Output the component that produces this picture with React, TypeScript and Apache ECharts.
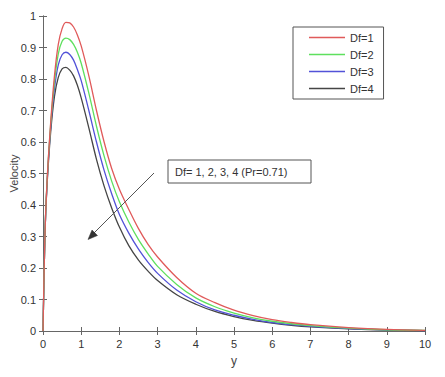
import React, { useEffect, useRef } from "react";
import * as echarts from "echarts";

const yPos = [0, 0.05, 0.1, 0.2, 0.3, 0.4, 0.5, 0.6, 0.7, 0.8, 0.9, 1.0, 1.2, 1.4, 1.6, 1.8, 2.0, 2.25, 2.5, 2.75, 3.0, 3.5, 4.0, 4.5, 5.0, 5.5, 6.0, 6.5, 7, 8, 9, 10];
const df1 = [0, 0.3, 0.46, 0.66, 0.81, 0.91, 0.96, 0.98, 0.978, 0.965, 0.94, 0.905, 0.81, 0.7, 0.6, 0.515, 0.45, 0.385, 0.325, 0.275, 0.235, 0.17, 0.12, 0.09, 0.066, 0.049, 0.036, 0.027, 0.02, 0.011, 0.005, 0.002];
const df2 = [0, 0.3, 0.46, 0.655, 0.79, 0.88, 0.92, 0.93, 0.925, 0.91, 0.885, 0.85, 0.755, 0.65, 0.555, 0.475, 0.41, 0.345, 0.29, 0.245, 0.205, 0.148, 0.105, 0.077, 0.057, 0.042, 0.031, 0.023, 0.017, 0.009, 0.004, 0.002];
const df3 = [0, 0.3, 0.455, 0.645, 0.77, 0.845, 0.877, 0.885, 0.878, 0.86, 0.83, 0.795, 0.7, 0.6, 0.51, 0.435, 0.37, 0.31, 0.26, 0.218, 0.183, 0.13, 0.093, 0.067, 0.05, 0.037, 0.027, 0.02, 0.015, 0.008, 0.004, 0.001];
const df4 = [0, 0.3, 0.45, 0.63, 0.745, 0.805, 0.832, 0.837, 0.828, 0.81, 0.78, 0.74, 0.645, 0.545, 0.46, 0.39, 0.33, 0.27, 0.225, 0.19, 0.16, 0.115, 0.085, 0.062, 0.046, 0.034, 0.025, 0.018, 0.013, 0.007, 0.003, 0.001];

const seriesNames = ["Df=1", "Df=2", "Df=3", "Df=4"];
const seriesColors = ["#e05a5a", "#5ee05e", "#5252d8", "#454545"];
const seriesValues = [df1, df2, df3, df4];
const annotation = "Df= 1, 2, 3, 4 (Pr=0.71)";

const FONT = "Liberation Sans, Arial, sans-serif";
const FRAME = "#666";

export default function App() {
  const ref = useRef<HTMLDivElement>(null);
  useEffect(() => {
    if (!ref.current) return;
    const chart = echarts.init(ref.current, null, { renderer: "svg" });
    const axisCommon = {
      axisLine: { show: true, lineStyle: { color: FRAME, width: 1 } },
      axisTick: { show: true, inside: true, length: 4, lineStyle: { color: FRAME } },
      splitLine: { show: false },
    };
    chart.setOption({
      animation: false,
      backgroundColor: "#fff",
      textStyle: { fontFamily: FONT },
      grid: { left: 43, top: 16, width: 382, height: 315, containLabel: false, outerBoundsMode: "none" },
      legend: {
        data: seriesNames.map((n) => ({ name: n, icon: "rect" })),
        orient: "vertical",
        left: 293,
        top: 27,
        padding: [4, 10, 4, 16],
        itemGap: 4,
        itemWidth: 36,
        itemHeight: 1.5,
        borderColor: "#555",
        borderWidth: 1,
        textStyle: { fontSize: 11, color: "#333", fontFamily: FONT, lineHeight: 13 },
      },
      xAxis: [
        {
          type: "value",
          min: 0,
          max: 10,
          interval: 1,
          position: "bottom",
          name: "y",
          nameLocation: "middle",
          nameGap: 24,
          nameMoveOverlap: false,
          nameTextStyle: { fontSize: 12, color: "#444", fontFamily: FONT },
          axisLabel: { fontSize: 11, color: "#333", margin: 7, fontFamily: FONT },
          ...axisCommon,
        },
        {
          type: "value",
          min: 0,
          max: 10,
          interval: 1,
          position: "top",
          axisLabel: { show: false },
          ...axisCommon,
        },
      ],
      yAxis: [
        {
          type: "value",
          min: 0,
          max: 1,
          interval: 0.1,
          position: "left",
          name: "Velocity",
          nameLocation: "middle",
          nameGap: 24,
          nameMoveOverlap: false,
          nameTextStyle: { fontSize: 11, color: "#444", fontFamily: FONT },
          axisLabel: { fontSize: 11, color: "#333", margin: 7, fontFamily: FONT, formatter: (v: number) => String(Math.round(v * 10) / 10) },
          ...axisCommon,
        },
        {
          type: "value",
          min: 0,
          max: 1,
          interval: 0.1,
          position: "right",
          axisLabel: { show: false },
          ...axisCommon,
        },
      ],
      series: seriesNames.map((name, i) => ({
        name,
        type: "line",
        symbol: "none",
        smooth: 0.35,
        color: seriesColors[i],
        lineStyle: { width: 1.3, color: seriesColors[i] },
        data: yPos.map((x, j) => [x, seriesValues[i][j]]),
        z: 5 - i,
      })),
      graphic: [
        {
          type: "rect",
          shape: { x: 168, y: 160, width: 143, height: 23 },
          style: { fill: "#fff", stroke: "#555", lineWidth: 1 },
          z: 10,
        },
        {
          type: "text",
          x: 175,
          y: 171.5,
          style: { text: annotation, fontSize: 11, fill: "#333", fontFamily: FONT, verticalAlign: "middle" },
          z: 11,
        },
        {
          type: "line",
          shape: { x1: 154, y1: 173, x2: 93, y2: 234 },
          style: { stroke: "#555", lineWidth: 1 },
          z: 10,
        },
        {
          type: "polygon",
          shape: { points: [[88, 239.5], [97.5, 235.5], [92, 230]] },
          style: { fill: "#333", stroke: "#333", lineWidth: 0.5 },
          z: 10,
        },
      ],
    });
    return () => chart.dispose();
  }, []);
  return (
    <div
      ref={ref}
      style={{ position: "fixed", left: 0, top: 0, width: 445, height: 377, background: "#fff" }}
    />
  );
}
